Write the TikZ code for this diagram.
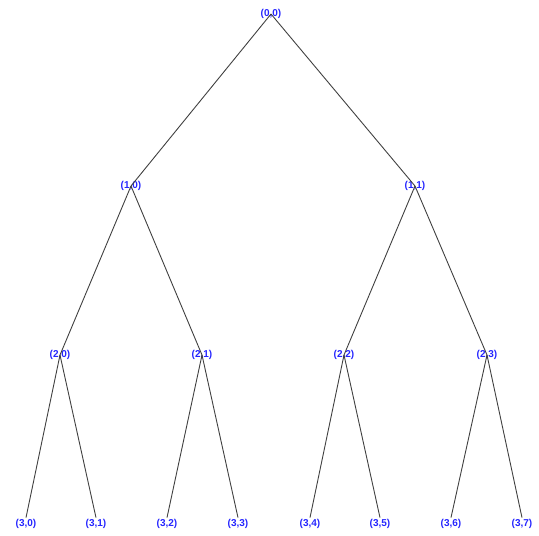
\documentclass[tikz,border=0pt]{standalone}
\usepackage{fontspec}
\setmainfont{Liberation Sans}
\begin{document}
\begin{tikzpicture}[x=1pt,y=-1pt,
  lbl/.style={text=blue!85!white, font=\fontsize{10}{10}\selectfont\bfseries, inner sep=1.5pt},
  edge/.style={draw=black!75, line width=0.9pt}]
\useasboundingbox (0,0) rectangle (539,536);
\node[lbl] (r) at (271,14) {(0,0)};
\node[lbl] (a0) at (131,186) {(1,0)};
\node[lbl] (a1) at (415,186) {(1,1)};
\node[lbl] (b0) at (60,355) {(2,0)};
\node[lbl] (b1) at (202,355) {(2,1)};
\node[lbl] (b2) at (344,355) {(2,2)};
\node[lbl] (b3) at (487,355) {(2,3)};
\node[lbl] (c0) at (26,524) {(3,0)};
\node[lbl] (c1) at (96,524) {(3,1)};
\node[lbl] (c2) at (167,524) {(3,2)};
\node[lbl] (c3) at (238,524) {(3,3)};
\node[lbl] (c4) at (310,524) {(3,4)};
\node[lbl] (c5) at (380,524) {(3,5)};
\node[lbl] (c6) at (451,524) {(3,6)};
\node[lbl] (c7) at (522,524) {(3,7)};
\draw[edge] (r.center) -- (a0.center);
\draw[edge] (r.center) -- (a1.center);
\draw[edge] (a0.center) -- (b0.center);
\draw[edge] (a0.center) -- (b1.center);
\draw[edge] (a1.center) -- (b2.center);
\draw[edge] (a1.center) -- (b3.center);
\draw[edge] (b0.center) -- (c0.north);
\draw[edge] (b0.center) -- (c1.north);
\draw[edge] (b1.center) -- (c2.north);
\draw[edge] (b1.center) -- (c3.north);
\draw[edge] (b2.center) -- (c4.north);
\draw[edge] (b2.center) -- (c5.north);
\draw[edge] (b3.center) -- (c6.north);
\draw[edge] (b3.center) -- (c7.north);
\end{tikzpicture}
\end{document}
